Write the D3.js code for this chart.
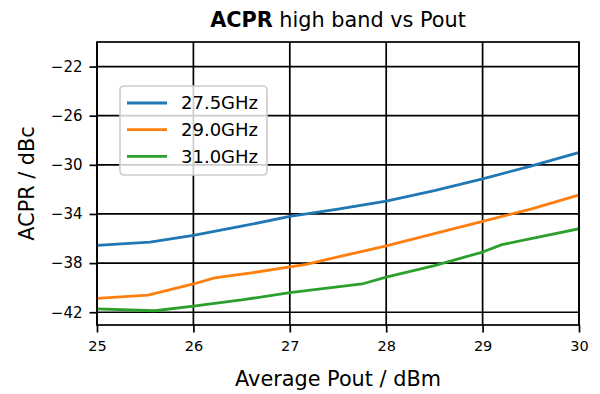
<!DOCTYPE html>
<html>
<head>
<meta charset="utf-8">
<script src="https://cdn.jsdelivr.net/npm/d3@7"></script>
<style>
  body { margin: 0; background: #fff; }
  svg { display: block; font-family: "DejaVu Sans", sans-serif; }
</style>
</head>
<body>
<div id="chart"></div>
<script>
// data
var seriesNames = ['27.5GHz', '29.0GHz', '31.0GHz'];
var seriesColors = ['#1f77b4', '#ff7f0e', '#2ca02c'];
var pout275 = [25, 25.55, 26, 26.5, 27, 27.5, 28, 28.5, 29, 29.5, 30];
var acpr275 = [-36.55, -36.3, -35.75, -35.0, -34.2, -33.6, -32.95, -32.1, -31.15, -30.1, -29.0];
var pout290 = [25, 25.53, 26, 26.22, 26.6, 27, 27.17, 27.5, 28, 28.5, 29, 29.5, 30];
var acpr290 = [-40.87, -40.6, -39.7, -39.2, -38.8, -38.3, -38.1, -37.5, -36.6, -35.6, -34.6, -33.6, -32.45];
var pout310 = [25, 25.6, 26, 26.5, 27, 27.75, 28, 28.5, 29, 29.2, 30];
var acpr310 = [-41.72, -41.88, -41.5, -41.0, -40.4, -39.7, -39.15, -38.2, -37.1, -36.5, -35.2];
var xTicks = [25, 26, 27, 28, 29, 30];
var yTicks = [-42, -38, -34, -30, -26, -22];

var width = 600, height = 394;
var margin = {left: 97, right: 21, top: 42, bottom: 69};

var series = [
  {name: seriesNames[0], color: seriesColors[0], x: pout275, y: acpr275},
  {name: seriesNames[1], color: seriesColors[1], x: pout290, y: acpr290},
  {name: seriesNames[2], color: seriesColors[2], x: pout310, y: acpr310}
];

var x = d3.scaleLinear().domain([25, 30]).range([margin.left, width - margin.right]);
var y = d3.scaleLinear().domain([-43.04, -20.0]).range([height - margin.bottom, margin.top]);

var svg = d3.select('#chart').append('svg')
  .attr('width', width)
  .attr('height', height);

svg.append('clipPath').attr('id', 'clip')
  .append('rect')
  .attr('x', margin.left).attr('y', margin.top)
  .attr('width', x.range()[1] - margin.left)
  .attr('height', y.range()[0] - margin.top);

// grid
var grid = svg.append('g').attr('stroke', '#000').attr('stroke-width', 1.7);
grid.selectAll('.gx').data(xTicks).enter().append('line')
  .attr('x1', function(d) { return x(d); }).attr('x2', function(d) { return x(d); })
  .attr('y1', y.range()[1]).attr('y2', y.range()[0]);
grid.selectAll('.gy').data(yTicks).enter().append('line')
  .attr('y1', function(d) { return y(d); }).attr('y2', function(d) { return y(d); })
  .attr('x1', x.range()[0]).attr('x2', x.range()[1]);

// lines
var line = d3.line();
svg.append('g').attr('clip-path', 'url(#clip)')
  .selectAll('path').data(series).enter().append('path')
  .attr('fill', 'none')
  .attr('stroke', function(d) { return d.color; })
  .attr('stroke-width', 2.8)
  .attr('stroke-linejoin', 'round')
  .attr('stroke-linecap', 'square')
  .attr('d', function(d) {
    return line(d.x.map(function(v, i) { return [x(v), y(d.y[i])]; }));
  });

// axes
var fmt = function(d) { return d < 0 ? '\u2212' + Math.abs(d) : d; };
var xAxis = svg.append('g')
  .attr('transform', 'translate(0,' + y.range()[0] + ')')
  .call(d3.axisBottom(x).tickValues(xTicks).tickSize(7.5).tickPadding(8).tickFormat(fmt));
var yAxis = svg.append('g')
  .attr('transform', 'translate(' + x.range()[0] + ',0)')
  .call(d3.axisLeft(y).tickValues(yTicks).tickSize(7.5).tickPadding(7).tickFormat(fmt));
[xAxis, yAxis].forEach(function(a) {
  a.select('.domain').remove();
  a.selectAll('line').attr('stroke', '#000').attr('stroke-width', 1.7);
  a.selectAll('text').attr('fill', '#000').style('font-size', '15px')
    .style('font-family', '"DejaVu Sans", sans-serif');
});
xAxis.selectAll('text').style('font-size', '14.5px');

// frame
svg.append('rect')
  .attr('x', x.range()[0]).attr('y', y.range()[1])
  .attr('width', x.range()[1] - x.range()[0])
  .attr('height', y.range()[0] - y.range()[1])
  .attr('fill', 'none').attr('stroke', '#000').attr('stroke-width', 1.7);

// labels
svg.append('text')
  .attr('x', (x.range()[0] + x.range()[1]) / 2).attr('y', 386)
  .attr('text-anchor', 'middle').style('font-size', '20.8px')
  .text('Average Pout / dBm');
svg.append('text')
  .attr('transform', 'translate(34,' + ((y.range()[0] + y.range()[1]) / 2) + ') rotate(-90)')
  .attr('text-anchor', 'middle').style('font-size', '20.8px')
  .text('ACPR / dBc');
var title = svg.append('text')
  .attr('x', (x.range()[0] + x.range()[1]) / 2).attr('y', 27)
  .attr('text-anchor', 'middle').style('font-size', '20.8px');
title.append('tspan').attr('font-weight', 'bold').text('ACPR');
title.append('tspan').text(' high band vs Pout');

// legend
var legend = svg.append('g').attr('transform', 'translate(120,86)');
legend.append('rect')
  .attr('width', 147).attr('height', 89).attr('rx', 4)
  .attr('fill', '#fff').attr('fill-opacity', 0.8)
  .attr('stroke', '#cccccc').attr('stroke-width', 1.6);
var item = legend.selectAll('.legend').data(series).enter().append('g')
  .attr('class', 'legend')
  .attr('transform', function(d, i) { return 'translate(0,' + (17 + i * 26.7) + ')'; });
item.append('line')
  .attr('x1', 7).attr('x2', 47)
  .attr('stroke', function(d) { return d.color; }).attr('stroke-width', 2.8);
item.append('text')
  .attr('x', 61).attr('dy', '0.35em').style('font-size', '18px')
  .text(function(d) { return d.name; });
</script>
</body>
</html>
